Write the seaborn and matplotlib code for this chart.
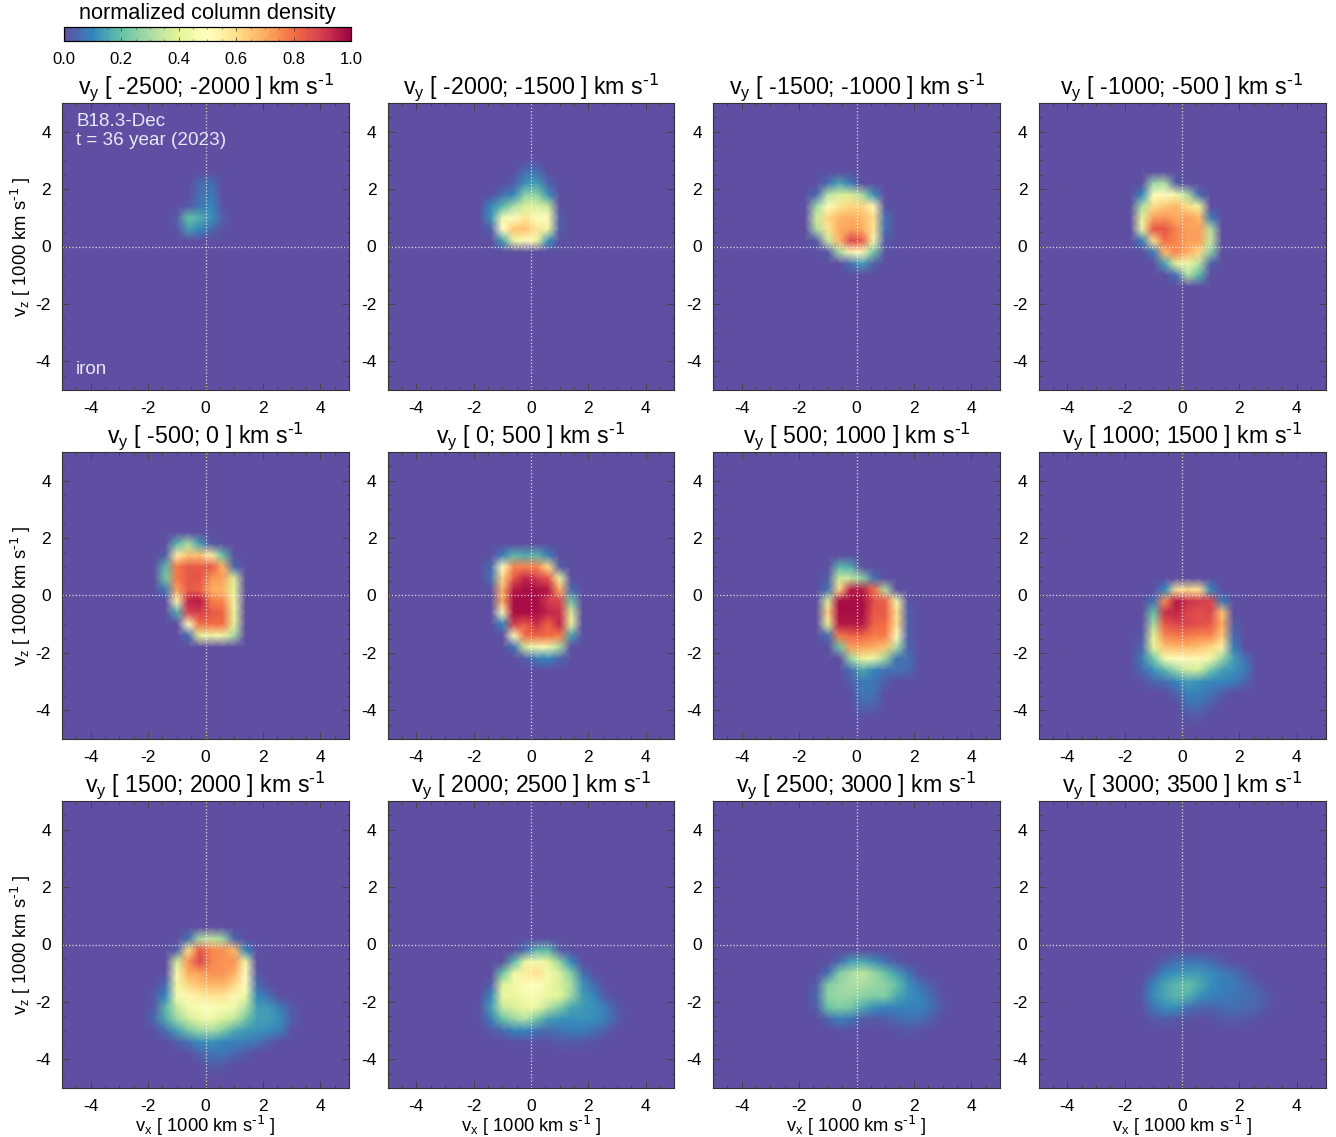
import numpy as np
import matplotlib
matplotlib.use('Agg')
import matplotlib.pyplot as plt
import seaborn as sns

plt.rcParams['font.family'] = ['Liberation Sans', 'DejaVu Sans']
plt.rcParams['mathtext.default'] = 'regular'

titles = ['-2500; -2000', '-2000; -1500', '-1500; -1000', '-1000; -500',
          '-500; 0', '0; 500', '500; 1000', '1000; 1500',
          '1500; 2000', '2000; 2500', '2500; 3000', '3000; 3500']
ticks = [-4, -2, 0, 2, 4]
tick_labels = ['-4', '-2', '0', '2', '4']
cbar_ticks = [0.0, 0.2, 0.4, 0.6, 0.8, 1.0]

# density in percent on a 0.4 step grid
# rows go downward in vz from the value in vz_tops, columns start at vx = -2.2
vz_tops = [2.2, 2.6, 2.2, 2.2, 1.8, 1.4, 1.0, 0.2, 0.2, -0.2, -0.6, -0.6]

panel_1 = [
    [0, 0, 0, 0, 0, 5, 6],
    [0, 0, 0, 0, 0, 6, 8],
    [0, 0, 0, 0, 2, 7, 10, 1],
    [0, 0, 0, 3, 20, 17, 12, 3],
    [0, 0, 0, 1, 14, 10, 5, 1],
]
panel_2 = [
    [0, 0, 0, 0, 0, 6, 6],
    [0, 0, 0, 0, 3, 12, 14, 4],
    [0, 0, 0, 6, 10, 26, 26, 12],
    [0, 0, 10, 18, 30, 38, 38, 34, 1],
    [0, 0, 12, 45, 50, 58, 50, 48, 3],
    [0, 0, 3, 50, 65, 66, 58, 42, 3],
    [0, 0, 0, 14, 42, 50, 44, 12],
]
panel_3 = [
    [0, 0, 0, 6, 15, 8],
    [0, 0, 5, 32, 38, 38, 30, 12],
    [0, 0, 28, 50, 58, 62, 62, 52, 1],
    [0, 0, 36, 62, 68, 70, 68, 60, 6],
    [0, 0, 30, 58, 70, 72, 70, 58, 6],
    [0, 0, 2, 35, 68, 88, 84, 45, 2],
    [0, 0, 0, 2, 30, 52, 52, 22, 1],
    [0, 0, 0, 0, 0, 6, 14, 3],
]
panel_4 = [
    [0, 0, 0, 28, 30, 3],
    [0, 0, 10, 48, 50, 45, 30, 5],
    [0, 0, 30, 60, 65, 68, 60, 42],
    [0, 0, 40, 72, 74, 70, 72, 68, 8],
    [0, 0, 42, 84, 85, 76, 72, 72, 32],
    [0, 0, 8, 60, 80, 76, 72, 72, 35],
    [0, 0, 0, 8, 68, 76, 70, 62, 25],
    [0, 0, 0, 0, 15, 40, 44, 32, 3],
    [0, 0, 0, 0, 0, 6, 32, 18],
]
panel_5 = [
    [0, 0, 0, 18, 30, 14, 2],
    [0, 0, 3, 55, 66, 66, 55, 20],
    [0, 0, 18, 78, 84, 84, 84, 70, 5],
    [0, 0, 22, 78, 84, 85, 74, 72, 38],
    [0, 0, 8, 72, 84, 82, 70, 68, 40],
    [0, 0, 0, 52, 94, 96, 78, 76, 44],
    [0, 0, 0, 16, 88, 90, 84, 82, 42],
    [0, 0, 0, 0, 50, 80, 80, 80, 40],
    [0, 0, 0, 0, 5, 40, 44, 44, 30],
]
panel_6 = [
    [0, 0, 0, 8, 18, 16, 18, 8],
    [0, 0, 5, 50, 76, 76, 76, 60, 3],
    [0, 0, 6, 62, 84, 94, 90, 84, 42],
    [0, 0, 0, 68, 96, 98, 98, 96, 70, 5],
    [0, 0, 0, 70, 98, 98, 98, 90, 88, 22],
    [0, 0, 0, 48, 98, 98, 98, 94, 92, 38],
    [0, 0, 0, 10, 90, 84, 92, 82, 94, 42],
    [0, 0, 0, 0, 48, 80, 82, 80, 78, 15],
    [0, 0, 0, 0, 6, 36, 46, 46, 30],
    [0, 0, 0, 0, 0, 3, 8, 10, 4],
]
panel_7 = [
    [0, 0, 0, 0, 18, 16],
    [0, 0, 0, 3, 36, 34, 26, 6],
    [0, 0, 0, 6, 62, 96, 96, 80, 30],
    [0, 0, 0, 38, 98, 98, 98, 86, 82, 45, 1],
    [0, 0, 0, 62, 98, 98, 98, 84, 84, 60, 3],
    [0, 0, 0, 40, 96, 96, 96, 82, 80, 60, 3],
    [0, 0, 0, 6, 78, 82, 82, 78, 78, 50, 3],
    [0, 0, 0, 0, 22, 72, 72, 70, 66, 30, 4],
    [0, 0, 0, 0, 0, 28, 42, 44, 28, 6, 6],
    [0, 0, 0, 0, 0, 6, 16, 10, 6, 6, 5],
    [0, 0, 0, 0, 0, 3, 8, 7, 3],
    [0, 0, 0, 0, 0, 0, 8, 6],
    [0, 0, 0, 0, 0, 0, 5, 4],
    [0, 0, 0, 0, 0, 0, 1],
]
panel_8 = [
    [0, 0, 0, 0, 10, 58, 60, 58, 10],
    [0, 0, 0, 6, 75, 96, 92, 90, 88, 8],
    [0, 0, 0, 20, 92, 94, 88, 86, 88, 65],
    [0, 0, 0, 30, 84, 88, 88, 86, 84, 70, 3],
    [0, 0, 2, 40, 76, 78, 78, 76, 76, 65, 5],
    [0, 0, 4, 40, 66, 68, 68, 66, 62, 55, 8],
    [0, 0, 8, 22, 46, 50, 52, 52, 44, 28, 14, 6],
    [0, 0, 5, 12, 18, 28, 36, 36, 22, 14, 12, 8],
    [0, 0, 1, 4, 6, 10, 14, 12, 10, 10, 8, 4],
    [0, 0, 0, 0, 0, 4, 9, 9, 7, 3],
    [0, 0, 0, 0, 0, 0, 6, 6, 3],
    [0, 0, 0, 0, 0, 0, 2, 2],
]
panel_9 = [
    [0, 0, 0, 0, 6, 30, 34, 28, 4],
    [0, 0, 0, 3, 60, 84, 76, 74, 68, 10],
    [0, 0, 0, 36, 74, 88, 76, 74, 74, 44],
    [0, 0, 0, 46, 70, 72, 74, 74, 70, 50, 2],
    [0, 0, 5, 44, 62, 66, 68, 68, 62, 50, 5],
    [0, 2, 10, 46, 52, 56, 58, 58, 52, 42, 10, 6],
    [0, 2, 18, 34, 44, 48, 48, 46, 44, 32, 14, 13, 8, 2],
    [0, 5, 16, 28, 36, 42, 44, 38, 34, 22, 14, 14, 11, 3],
    [0, 1, 6, 14, 22, 28, 30, 24, 16, 13, 12, 11, 8, 1],
    [0, 0, 0, 3, 7, 11, 12, 10, 9, 8, 7, 3],
    [0, 0, 0, 0, 0, 4, 7, 7, 5, 2],
    [0, 0, 0, 0, 0, 0, 3, 2],
]
panel_10 = [
    [0, 0, 0, 0, 0, 6, 18, 18, 3],
    [0, 0, 0, 0, 18, 42, 46, 40, 26, 10],
    [0, 0, 0, 20, 44, 56, 60, 46, 38, 24, 6],
    [0, 0, 3, 38, 44, 48, 50, 44, 38, 30, 12, 5],
    [0, 0, 10, 42, 42, 46, 46, 42, 40, 28, 14, 10, 2],
    [0, 1, 14, 34, 38, 42, 42, 32, 24, 15, 13, 12, 8, 2],
    [0, 1, 8, 20, 28, 32, 22, 14, 12, 11, 12, 11, 8, 3],
    [0, 0, 2, 5, 9, 10, 6, 5, 7, 8, 8, 6, 3],
    [0, 0, 0, 0, 1, 1, 1, 1, 2, 2, 2, 1],
]
panel_11 = [
    [0, 0, 0, 0, 5, 14, 16, 12, 6, 2],
    [0, 0, 0, 6, 24, 30, 34, 28, 20, 14, 7, 1],
    [0, 0, 3, 24, 28, 30, 30, 28, 26, 20, 12, 6, 3],
    [0, 0, 5, 26, 28, 28, 26, 24, 24, 16, 12, 10, 5, 1],
    [0, 0, 3, 20, 24, 22, 16, 11, 9, 9, 9, 9, 6, 2],
    [0, 0, 0, 4, 9, 7, 3, 2, 3, 5, 6, 6, 3],
    [0, 0, 0, 0, 1, 1, 0, 0, 0, 1, 2, 1],
]
panel_12 = [
    [0, 0, 0, 0, 3, 6, 7, 7, 5, 2],
    [0, 0, 0, 3, 10, 12, 13, 13, 11, 8, 6, 3],
    [0, 0, 1, 9, 15, 18, 20, 16, 11, 9, 8, 5, 3],
    [0, 0, 2, 11, 15, 18, 17, 12, 9, 8, 7, 6, 5, 2],
    [0, 0, 1, 7, 11, 11, 6, 4, 4, 5, 6, 5, 4, 1],
    [0, 0, 0, 2, 3, 2, 1, 0, 1, 2, 2, 2, 1],
]
panels = [panel_1, panel_2, panel_3, panel_4, panel_5, panel_6,
          panel_7, panel_8, panel_9, panel_10, panel_11, panel_12]

W, H = 1336, 1137
lefts = [62, 387.5, 713, 1038.5]
tops = [103, 452, 801]
size = 287
step = 0.4
n = 26


def to_x(v):
    return (np.asarray(v) + 5) / step


def to_y(v):
    return (5 - np.asarray(v)) / step


def make_grid(rows, vz_top):
    grid = np.zeros((n, n))
    first = int(round(to_y(vz_top)))
    for i, row in enumerate(rows):
        grid[first + i, 7:7 + len(row)] = row
    return grid / 100


fig = plt.figure(figsize=(W / 100, H / 100), dpi=100)
cax = fig.add_axes([64 / W, 1 - 41 / H, 287 / W, 14 / H])

for i, rows in enumerate(panels):
    r, c = i // 4, i % 4
    ax = fig.add_axes([lefts[c] / W, 1 - (tops[r] + size) / H, size / W, size / H])
    extra = dict(cbar=True, cbar_ax=cax, cbar_kws={'orientation': 'horizontal', 'ticks': cbar_ticks}) if i == 0 else dict(cbar=False)
    sns.heatmap(make_grid(rows, vz_tops[i]), ax=ax, cmap='Spectral_r', vmin=0, vmax=1,
                xticklabels=False, yticklabels=False, shading='gouraud', **extra)
    ax.set_xlim(0, n - 1)
    ax.set_ylim(n - 1, 0)
    for s in ax.spines.values():
        s.set_visible(True)
        s.set_linewidth(0.8)
        s.set_color('#333333')
    ax.set_xticks(to_x(ticks))
    ax.set_xticklabels(tick_labels, fontsize=12.5)
    ax.set_yticks(to_y(ticks))
    ax.set_yticklabels(tick_labels, fontsize=12.5)
    ax.set_xticks(to_x(np.arange(-4.5, 5, 0.5)), minor=True)
    ax.set_yticks(to_y(np.arange(-4.5, 5, 0.5)), minor=True)
    ax.tick_params(which='major', direction='in', top=True, right=True, left=True, bottom=True,
                   length=5, width=0.7, color='#444444', pad=8, rotation=0)
    ax.tick_params(which='minor', direction='in', top=True, right=True, left=True, bottom=True,
                   length=2.5, width=0.7, color='#444444')
    ax.axhline(to_y(0), color='white', ls=':', lw=0.9, alpha=0.8)
    ax.axvline(to_x(0), color='white', ls=':', lw=0.9, alpha=0.8)
    ax.set_title('v$_y$ [ ' + titles[i] + r' ] km s$^{\text{-1}}$', fontsize=16.7, pad=6)
    if c == 0:
        ax.set_ylabel(r'v$_z$ [ 1000 km s$^{\text{-1}}$ ]', fontsize=13.2, labelpad=2)
    if r == 2:
        ax.set_xlabel(r'v$_x$ [ 1000 km s$^{\text{-1}}$ ]', fontsize=13.2, labelpad=0)
    if i == 0:
        ax.text(0.049, 0.937, 'B18.3-Dec', transform=ax.transAxes, color='#e8e8f4', fontsize=13.6, va='center')
        ax.text(0.049, 0.868, 't = 36 year (2023)', transform=ax.transAxes, color='#e8e8f4', fontsize=13.6, va='center')
        ax.text(0.049, 0.073, 'iron', transform=ax.transAxes, color='#e8e8f4', fontsize=13.6, va='center')

cax.set_xticks(cbar_ticks)
cax.set_xticklabels(['0.0', '0.2', '0.4', '0.6', '0.8', '1.0'], fontsize=12)
cax.set_xticks(np.arange(0, 1.01, 0.05), minor=True)
cax.tick_params(which='major', direction='in', length=3, width=0.5, color='#333333', pad=8, top=True, bottom=True)
cax.tick_params(which='minor', direction='in', length=1.5, width=0.4, color='#333333', top=True, bottom=True)
cax.set_title('normalized column density', fontsize=15.7, pad=6)
for s in cax.spines.values():
    s.set_visible(True)
    s.set_linewidth(0.8)

fig.savefig('out.png', dpi=100)
